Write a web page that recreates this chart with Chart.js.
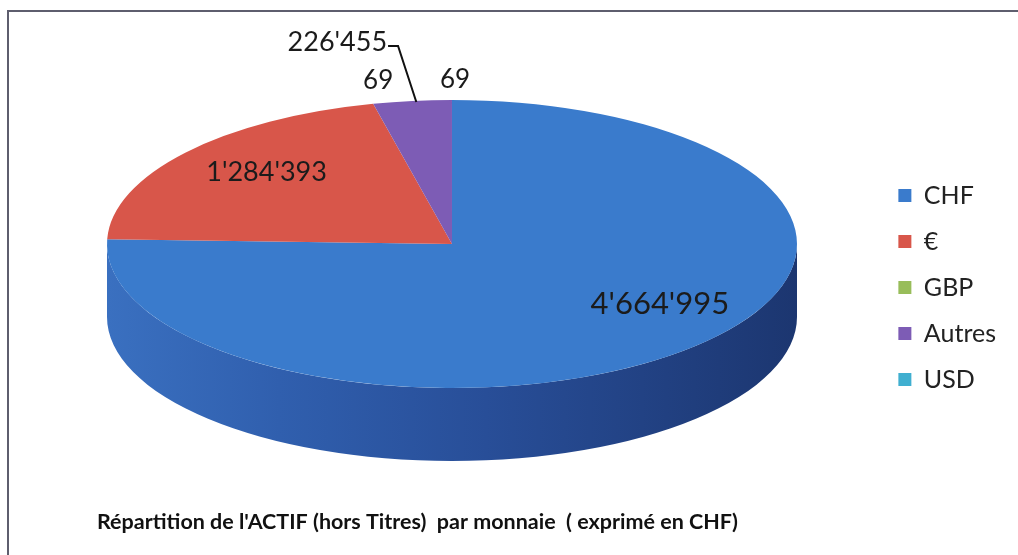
<!DOCTYPE html>
<html><head><meta charset="utf-8">
<script src="https://cdn.jsdelivr.net/npm/chart.js@4.4.1/dist/chart.umd.min.js"></script>
<style>
html,body{margin:0;padding:0;background:#fff;width:1018px;height:555px;overflow:hidden;}
canvas{position:absolute;left:0;top:0;}
</style></head><body>
<canvas id="c" width="1018" height="555"></canvas>
<script>
const categories = ['CHF', '€', 'GBP', 'Autres', 'USD'];
const values = [4664995, 1284393, 69, 226455, 69];
const chartTitle = "Répartition de l'ACTIF (hors Titres)  par monnaie  ( exprimé en CHF)";

const sliceColors = ['#3a7bcc', '#d8564a', '#98bd5a', '#7d5cb5', '#40afd0'];
const sideColors = ['#2c5aa8', '#9a3a30', '#6a8a3a', '#563e85', '#2a7e98'];

const GEO = {cx: 452, cy: 244, rx: 345, ry: 144, depth: 73};
const LABEL_PLACE = [
  {frac: 0.7, dx: 40, dy: -12, size: 31},
  {frac: 0.68, dx: -4, dy: -10, size: 27},
  {frac: 1, dx: 5, dy: -23, size: 26},
  {frac: 1, dx: -75, dy: -59, size: 27, leader: true},
  {frac: 1, dx: 3, dy: -20, size: 26}
];

function fmt(v) { return v.toString().replace(/\B(?=(\d{3})+(?!\d))/g, "'"); }

Chart.defaults.font.family = 'Lato';

const frame = {
  id: 'frame',
  beforeDraw(chart) {
    const ctx = chart.ctx;
    ctx.save();
    ctx.strokeStyle = '#5e5e6e';
    ctx.lineWidth = 2;
    ctx.beginPath();
    ctx.moveTo(8, 560);
    ctx.lineTo(8, 11);
    ctx.lineTo(1030, 11);
    ctx.stroke();
    ctx.restore();
  }
};

const pie3d = {
  id: 'pie3d',
  beforeDatasetsDraw(chart) {
    const ctx = chart.ctx;
    const meta = chart.getDatasetMeta(0);
    const a0 = meta.data[0];
    const R = a0.outerRadius;
    const {cx, cy, rx, ry, depth} = GEO;
    meta.data.forEach((arc, i) => {
      const s = arc.startAngle, e = arc.endAngle;
      for (const k of [-2 * Math.PI, 0, 2 * Math.PI]) {
        const a = Math.max(s + k, 0), b = Math.min(e + k, Math.PI);
        if (b > a) {
          let fill = sideColors[i];
          if (i === 0) {
            const g = ctx.createLinearGradient(cx - rx, 0, cx + rx, 0);
            g.addColorStop(0, '#3a70c0');
            g.addColorStop(0.25, '#305fae');
            g.addColorStop(0.55, '#284e98');
            g.addColorStop(1, '#1c3670');
            fill = g;
          }
          ctx.save();
          ctx.beginPath();
          ctx.ellipse(cx, cy, rx, ry, 0, a, b, false);
          ctx.lineTo(cx + rx * Math.cos(b), cy + depth + ry * Math.sin(b));
          ctx.ellipse(cx, cy + depth, rx, ry, 0, b, a, true);
          ctx.closePath();
          ctx.fillStyle = fill;
          ctx.fill();
          ctx.restore();
        }
      }
    });
    ctx.save();
    ctx.translate(cx, cy);
    ctx.scale(rx / R, ry / R);
    ctx.translate(-a0.x, -a0.y);
  },
  afterDatasetsDraw(chart) {
    chart.ctx.restore();
  },
  afterDraw(chart) {
    const ctx = chart.ctx;
    const meta = chart.getDatasetMeta(0);
    const {cx, cy, rx, ry} = GEO;
    const vals = chart.data.datasets[0].data;
    meta.data.forEach((arc, i) => {
      const p = LABEL_PLACE[i];
      const mid = (arc.startAngle + arc.endAngle) / 2;
      const ax = cx + p.frac * rx * Math.cos(mid);
      const ay = cy + p.frac * ry * Math.sin(mid);
      const tx = ax + p.dx, ty = ay + p.dy;
      const txt = fmt(vals[i]);
      ctx.save();
      ctx.font = p.size + 'px Lato';
      ctx.fillStyle = '#1b1b1b';
      ctx.textAlign = 'center';
      ctx.textBaseline = 'middle';
      ctx.fillText(txt, tx, ty);
      if (p.leader) {
        const w = ctx.measureText(txt).width;
        ctx.strokeStyle = '#111';
        ctx.lineWidth = 2;
        ctx.beginPath();
        ctx.moveTo(tx + w / 2 + 1, ty + 4);
        ctx.lineTo(tx + w / 2 + 11, ty + 4);
        ctx.lineTo(ax + 4, ay + 1);
        ctx.stroke();
      }
      ctx.restore();
    });
  }
};

new Chart(document.getElementById('c'), {
  type: 'pie',
  data: {
    labels: categories,
    datasets: [{
      data: values,
      backgroundColor: sliceColors,
      borderWidth: 0
    }]
  },
  options: {
    responsive: false,
    animation: false,
    devicePixelRatio: 1,
    layout: {padding: {left: 97, right: 12, top: 40, bottom: 20}},
    plugins: {
      tooltip: {enabled: false},
      legend: {
        position: 'right',
        labels: {
          boxWidth: 13,
          boxHeight: 13,
          padding: 21,
          color: '#222',
          font: {size: 25, family: 'Lato'}
        }
      },
      title: {
        display: true,
        text: chartTitle,
        position: 'bottom',
        align: 'start',
        color: '#111',
        font: {size: 21.5, weight: 'bold', family: 'Lato'},
        padding: {top: 0, bottom: 0}
      }
    }
  },
  plugins: [frame, pie3d]
});
</script>
</body></html>
